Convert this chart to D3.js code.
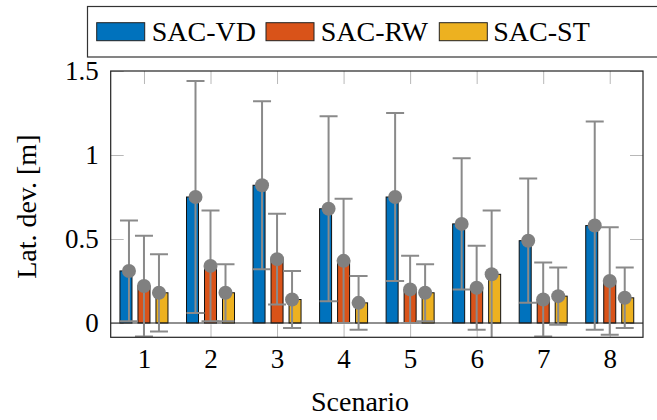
<!DOCTYPE html>
<html>
<head>
<meta charset="utf-8">
<script src="https://cdn.jsdelivr.net/npm/d3@7"></script>
<style>
  body { margin: 0; background: #fff; }
  svg text { font-family: "Liberation Serif", "DejaVu Serif", serif; }
</style>
</head>
<body>
<svg width="657" height="420"></svg>
<script>
const width = 657,
  height = 420

// data
const scenarios = [1, 2, 3, 4, 5, 6, 7, 8]
const seriesNames = ['SAC-VD', 'SAC-RW', 'SAC-ST']
const seriesColors = ['#0072BD', '#D95319', '#EDB120']

const vdMean = [0.31, 0.75, 0.82, 0.68, 0.75, 0.59, 0.49, 0.58]
const vdHigh = [0.61, 1.44, 1.32, 1.23, 1.25, 0.98, 0.86, 1.20]
const vdLow = [0.01, 0.06, 0.32, 0.13, 0.25, 0.20, 0.12, -0.04]

const rwMean = [0.22, 0.34, 0.38, 0.37, 0.20, 0.21, 0.14, 0.25]
const rwHigh = [0.52, 0.67, 0.65, 0.74, 0.40, 0.46, 0.36, 0.57]
const rwLow = [-0.08, 0.01, 0.11, 0.00, 0.00, -0.04, -0.08, -0.07]

const stMean = [0.18, 0.18, 0.14, 0.12, 0.18, 0.29, 0.16, 0.15]
const stHigh = [0.41, 0.35, 0.31, 0.28, 0.35, 0.67, 0.33, 0.33]
const stLow = [-0.05, 0.01, -0.03, -0.04, 0.01, -0.09, -0.01, -0.03]

const yTicks = [0, 0.5, 1, 1.5]

let series = [
  { mean: vdMean, high: vdHigh, low: vdLow },
  { mean: rwMean, high: rwHigh, low: rwLow },
  { mean: stMean, high: stHigh, low: stLow }
]

const serif = '"Liberation Serif", "DejaVu Serif", serif'

let margin = { left: 110.7, right: 643, top: 71, bottom: 337.3 }

let x = d3.scaleLinear().domain([0.5, 8.5]).range([margin.left, margin.right])
let y = d3.scaleLinear().domain([-0.085, 1.5]).range([margin.bottom, margin.top])

// pgfplots-style shifts: bars and error marks don't line up exactly
let barShift = i => (i - 1) * 18
let markShift = i => (i - 1) * 15
let barWidth = 12

let svg = d3.select('svg')

svg.append('defs')
  .append('clipPath')
  .attr('id', 'plotClip')
  .append('rect')
  .attr('x', margin.left)
  .attr('y', margin.top)
  .attr('width', margin.right - margin.left)
  .attr('height', margin.bottom - margin.top)

// ticks (inward, light gray)
let tickColor = '#b8b8b8'

let styleAxis = g => {
  g.attr('font-family', serif)
  g.select('.domain').remove()
  g.selectAll('.tick line').attr('stroke', tickColor).attr('stroke-width', 1)
  g.selectAll('.tick text').attr('fill', '#000')
    .attr('font-family', serif)
    .attr('font-size', 27)
}

svg.append('g')
  .attr('transform', `translate(0,${margin.bottom})`)
  .call(d3.axisBottom(x).tickValues(scenarios).tickSizeInner(-13).tickSizeOuter(0).tickPadding(12))
  .call(styleAxis)
  .call(g => g.selectAll('.tick text').attr('dy', '0.71em'))

svg.append('g')
  .attr('transform', `translate(0,${margin.top})`)
  .call(d3.axisTop(x).tickValues(scenarios).tickSizeInner(-13).tickSizeOuter(0).tickFormat(''))
  .call(styleAxis)

svg.append('g')
  .attr('transform', `translate(${margin.left},0)`)
  .call(d3.axisLeft(y).tickValues(yTicks).tickSizeInner(-13).tickSizeOuter(0).tickPadding(12).tickFormat(d3.format('')))
  .call(styleAxis)

svg.append('g')
  .attr('transform', `translate(${margin.right},0)`)
  .call(d3.axisRight(y).tickValues(yTicks).tickSizeInner(-13).tickSizeOuter(0).tickFormat(''))
  .call(styleAxis)

let plot = svg.append('g').attr('clip-path', 'url(#plotClip)')

// bars
series.forEach((s, i) => {
  plot.append('g')
    .selectAll('rect')
    .data(scenarios)
    .join('rect')
    .attr('x', d => x(d) + barShift(i) - barWidth / 2)
    .attr('y', (d, j) => y(s.mean[j]))
    .attr('width', barWidth)
    .attr('height', (d, j) => y(0) - y(s.mean[j]))
    .attr('fill', seriesColors[i])
    .attr('stroke', '#111')
    .attr('stroke-width', 1)
})

// zero line
plot.append('line')
  .attr('x1', margin.left)
  .attr('x2', margin.right)
  .attr('y1', y(0))
  .attr('y2', y(0))
  .attr('stroke', '#222')
  .attr('stroke-width', 1.2)

// error bars + markers
let errColor = '#8a8a8a'
series.forEach((s, i) => {
  let g = plot.append('g')
  let cx = d => x(d) + markShift(i)

  g.selectAll('line.stem')
    .data(scenarios)
    .join('line')
    .attr('class', 'stem')
    .attr('x1', cx).attr('x2', cx)
    .attr('y1', (d, j) => y(s.low[j]))
    .attr('y2', (d, j) => y(s.high[j]))
    .attr('stroke', errColor)
    .attr('stroke-width', 2)

  ;['high', 'low'].forEach(k => {
    g.selectAll(`line.cap-${k}`)
      .data(scenarios)
      .join('line')
      .attr('class', `cap-${k}`)
      .attr('x1', d => cx(d) - 9).attr('x2', d => cx(d) + 9)
      .attr('y1', (d, j) => y(s[k][j]))
      .attr('y2', (d, j) => y(s[k][j]))
      .attr('stroke', errColor)
      .attr('stroke-width', 2)
  })

  g.selectAll('circle')
    .data(scenarios)
    .join('circle')
    .attr('cx', cx)
    .attr('cy', (d, j) => y(s.mean[j]))
    .attr('r', 7)
    .attr('fill', '#808080')
})

// frame
svg.append('rect')
  .attr('x', margin.left)
  .attr('y', margin.top)
  .attr('width', margin.right - margin.left)
  .attr('height', margin.bottom - margin.top)
  .attr('fill', 'none')
  .attr('stroke', '#222')
  .attr('stroke-width', 1.2)

// axis titles
svg.append('text')
  .attr('x', 360)
  .attr('y', 411)
  .attr('text-anchor', 'middle')
  .attr('font-family', serif)
  .attr('font-size', 28)
  .text('Scenario')

svg.append('text')
  .attr('transform', 'translate(36,206.7) rotate(-90)')
  .attr('text-anchor', 'middle')
  .attr('font-family', serif)
  .attr('font-size', 28)
  .text('Lat. dev. [m]')

// legend
let legend = svg.append('g')

legend.append('rect')
  .attr('x', 87.5)
  .attr('y', 6.5)
  .attr('width', 620)
  .attr('height', 50.5)
  .attr('fill', '#fff')
  .attr('stroke', '#333')
  .attr('stroke-width', 1.2)

let swatchX = [96.7, 266, 439.3]
let labelX = [151.7, 320.7, 493.3]

legend.selectAll('rect.swatch')
  .data(seriesNames)
  .join('rect')
  .attr('class', 'swatch')
  .attr('x', (d, i) => swatchX[i])
  .attr('y', 22.7)
  .attr('width', 48)
  .attr('height', 18)
  .attr('fill', (d, i) => seriesColors[i])
  .attr('stroke', '#222')
  .attr('stroke-width', 1)

legend.selectAll('text')
  .data(seriesNames)
  .join('text')
  .attr('x', (d, i) => labelX[i])
  .attr('y', 41)
  .attr('font-family', serif)
  .attr('font-size', 28)
  .text(d => d)
</script>
</body>
</html>
